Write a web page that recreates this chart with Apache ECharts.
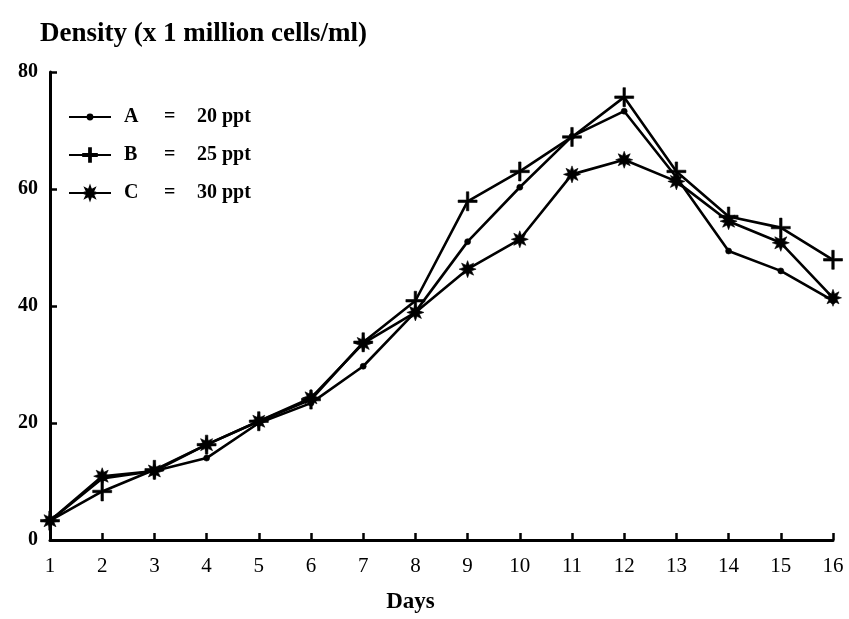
<!DOCTYPE html>
<html>
<head>
<meta charset="utf-8">
<script src="https://cdn.jsdelivr.net/npm/echarts@6/dist/echarts.min.js"></script>
<style>
html,body{margin:0;padding:0;background:#fff;}
#chart{width:849px;height:619px;}
</style>
</head>
<body>
<div id="chart"></div>
<script>
const days = ['1','2','3','4','5','6','7','8','9','10','11','12','13','14','15','16'];
const yTicks = [0, 20, 40, 60, 80];
const seriesNames = ['A', 'B', 'C'];
const salinity = ['20 ppt', '25 ppt', '30 ppt'];
const seriesA = [3.3, 10.5, 11.8, 14.0, 20.0, 23.4, 29.7, 39.0, 51.0, 60.3, 69.0, 73.3, 62.0, 49.4, 46.0, 40.9];
const seriesB = [3.3, 8.3, 12.0, 16.3, 20.3, 24.0, 33.8, 40.9, 57.9, 63.0, 68.9, 75.7, 63.0, 55.3, 53.4, 47.9];
const seriesC = [3.3, 10.9, 11.8, 16.3, 20.3, 24.3, 33.6, 38.9, 46.3, 51.4, 62.5, 65.0, 61.3, 54.5, 50.8, 41.4];

const FONT = '"Liberation Serif", "DejaVu Serif", serif';
const plusPath = 'path://M-1.3,-10 L1.3,-10 L1.3,-1.3 L10,-1.3 L10,1.3 L1.3,1.3 L1.3,10 L-1.3,10 L-1.3,1.3 L-10,1.3 L-10,-1.3 L-1.3,-1.3 Z';
function starPath() {
  const pts = [];
  for (let i = 0; i < 16; i++) {
    const r = i % 2 === 0 ? 10 : 5;
    const a = Math.PI * i / 8 - Math.PI / 2;
    pts.push((r * Math.cos(a)).toFixed(2) + ',' + (r * Math.sin(a)).toFixed(2));
  }
  return 'path://M' + pts.join(' L') + ' Z';
}
const starSym = starPath();

const legendNames = seriesNames.map((n, i) => n + '|' + salinity[i]);
function mk(i, data, symbol, size) {
  return {
    name: legendNames[i],
    type: 'line',
    data: data,
    symbol: symbol,
    symbolSize: size,
    showSymbol: true,
    lineStyle: { color: '#000', width: 2.6 },
    itemStyle: { color: '#000', borderColor: '#000', borderWidth: 0.6 },
    emphasis: { disabled: true },
    animation: false,
    z: 3 - i
  };
}

const legendText = {
  fontFamily: FONT, fontSize: 20, fontWeight: 'bold', color: '#000', lineHeight: 22,
  rich: {
    a: { fontFamily: FONT, fontSize: 20, width: 40, padding: [0,0,0,8] },
    b: { fontFamily: FONT, fontSize: 20, width: 33 },
    c: { fontFamily: FONT, fontSize: 20 }
  }
};
function legendFmt(name) {
  const p = name.split('|');
  return '{a|' + p[0] + '}{b|=}{c|' + p[1] + '}';
}
const legendRows = [101, 139, 177];
const legendIconH = [6, 17, 16];
const legends = legendNames.map((n, i) => ({
  orient: 'vertical',
  left: 68, top: legendRows[i] + 5,
  padding: 0,
  itemWidth: 42, itemHeight: legendIconH[i],
  data: [n],
  formatter: legendFmt,
  textStyle: legendText,
  selectedMode: false
}));

const chart = echarts.init(document.getElementById('chart'), null, { renderer: 'canvas' });
chart.setOption({
  backgroundColor: '#fff',
  animation: false,
  title: {
    text: 'Density (x 1 million cells/ml)',
    left: 35, top: 16,
    textStyle: { fontFamily: FONT, fontSize: 27, fontWeight: 'bold', color: '#000' }
  },
  legend: legends,
  grid: { left: 50, right: 16, top: 72, bottom: 77, containLabel: false },
  xAxis: {
    type: 'category',
    data: days,
    boundaryGap: false,
    name: 'Days',
    nameLocation: 'middle',
    nameGap: 51,
    nameTextStyle: { fontFamily: FONT, fontSize: 23, fontWeight: 'bold', color: '#000', padding: [0, 62, 0, 0] },
    axisLine: { lineStyle: { color: '#000', width: 3 } },
    axisTick: { inside: true, length: 7, alignWithLabel: true, lineStyle: { color: '#000', width: 2.5 } },
    axisLabel: { fontFamily: FONT, fontSize: 21, color: '#000', margin: 16 },
    splitLine: { show: false }
  },
  yAxis: {
    type: 'value',
    min: yTicks[0], max: yTicks[yTicks.length - 1], interval: 20,
    axisLine: { show: true, lineStyle: { color: '#000', width: 3 } },
    axisTick: { show: true, inside: true, length: 7, lineStyle: { color: '#000', width: 2.5 } },
    axisLabel: { fontFamily: FONT, fontSize: 20, fontWeight: 'bold', color: '#000', margin: 12 },
    splitLine: { show: false }
  },
  series: [
    mk(0, seriesA, 'circle', 6),
    mk(1, seriesB, plusPath, 19),
    mk(2, seriesC, starSym, 17)
  ]
});
</script>
</body>
</html>
